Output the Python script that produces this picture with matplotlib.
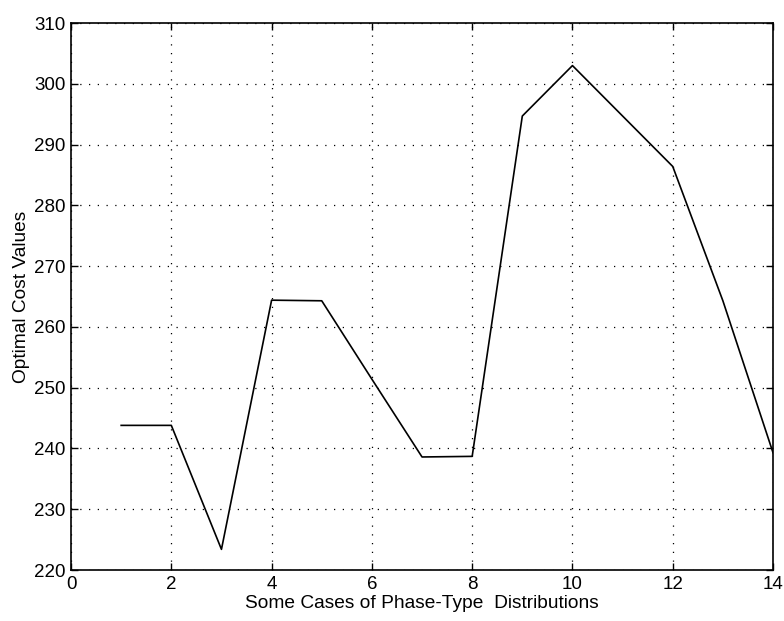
import numpy as np
import matplotlib.pyplot as plt

# optimal cost for each phase-type case
cases = [1, 2, 3, 4, 5, 6, 7, 8, 9, 10, 11, 12, 13, 14]
cost = [243.8, 243.8, 223.4, 264.4, 264.3, 251.4, 238.6, 238.7, 294.7, 303.0, 294.7, 286.4, 264.3, 239.3]

plt.rcParams['font.family'] = ['Liberation Sans', 'DejaVu Sans']

fig = plt.figure(figsize=(7.84, 6.21), dpi=100)
ax = fig.add_axes([0.0906, 0.0821, 0.8954, 0.8808])

ax.plot(cases, cost, color='black', linewidth=1.2)

ax.set_xlim(0, 14)
ax.set_ylim(220, 310)
ax.set_xticks(np.arange(0, 15, 2))
ax.set_yticks(np.arange(220, 311, 10))
ax.grid(True, color='black', linestyle=(0, (1, 6)), linewidth=0.9)
ax.tick_params(direction='in', top=True, right=True, length=5, width=1,
               labelsize=13.5, pad=4)
for s in ax.spines.values():
    s.set_linewidth(1.2)

ax.set_xlabel("Some Cases of Phase-Type  Distributions", fontsize=13.8, labelpad=2)
ax.set_ylabel("Optimal Cost Values", fontsize=13.8, labelpad=3)

plt.savefig('out.png', dpi=100)
